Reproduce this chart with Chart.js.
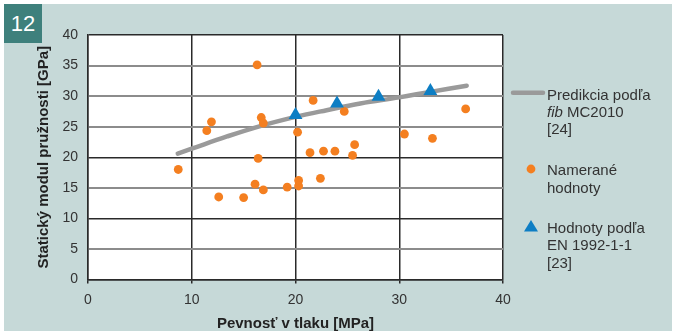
<!DOCTYPE html>
<html>
<head>
<meta charset="utf-8">
<script src="https://cdn.jsdelivr.net/npm/chart.js@4.4.1/dist/chart.umd.min.js"></script>
<style>
  body { margin: 0; background: #fff; width: 676px; height: 335px; position: relative; overflow: hidden; font-family: "Liberation Sans", Arial, sans-serif; }
  #panel { position: absolute; left: 4px; top: 4px; width: 668px; height: 327px; background: #c6d9d8; }
  #badge { position: absolute; left: 4px; top: 4px; width: 38px; height: 39px; background: #3e807c; color: #fff; font-size: 22px; line-height: 39px; text-align: center; }
  #chart { position: absolute; left: 0; top: 0; }
  .leg { position: absolute; left: 547px; font-size: 15px; line-height: 17.3px; color: #333; }
  .sym { position: absolute; }
</style>
</head>
<body>
<div id="panel"></div>
<canvas id="chart" width="676" height="335"></canvas>
<div id="badge">12</div>

<svg class="sym" style="left:508px;top:86px" width="40" height="14"><line x1="5" y1="6.7" x2="35" y2="6.7" stroke="#9a9a9a" stroke-width="4.5" stroke-linecap="round"/></svg>
<div class="leg" style="top:85.7px">Predikcia podľa<br><i>fib</i> MC2010<br>[24]</div>

<svg class="sym" style="left:524px;top:162px" width="14" height="14"><circle cx="7" cy="7" r="4.4" fill="#f47f20"/></svg>
<div class="leg" style="top:161.4px">Namerané<br>hodnoty</div>

<svg class="sym" style="left:523px;top:218px" width="16" height="16"><polygon points="8,2 15,13.5 1,13.5" fill="#0d7ec4"/></svg>
<div class="leg" style="top:219.1px">Hodnoty podľa<br>EN 1992-1-1<br>[23]</div>

<script>
// predikcia podla fib MC2010 (krivka)
const predX = [8.65, 10, 13.4, 16.6, 20, 23, 26.25, 30, 33, 36.5]
const predY = [20.6, 21.4, 23.4, 25.1, 26.6, 27.7, 28.8, 29.8, 30.7, 31.7]

// namerane hodnoty
const measX = [8.7, 11.45, 11.9, 12.6, 15.0, 16.1, 16.3, 16.4, 16.7, 16.9, 16.9, 19.2, 20.2, 20.3, 20.3, 21.4, 21.7, 22.4, 22.7, 23.8, 24.7, 25.5, 25.7, 30.5, 33.2, 36.4]
const measY = [18.0, 24.35, 25.8, 13.5, 13.4, 15.6, 35.1, 19.8, 26.5, 25.6, 14.65, 15.1, 24.1, 16.2, 15.3, 20.75, 29.3, 16.55, 21.0, 21.0, 27.5, 20.3, 22.05, 23.8, 23.1, 27.9]

// hodnoty podla EN 1992-1-1
const enX = [20.0, 24.0, 28.0, 33.0]
const enY = [26.9, 28.8, 29.9, 30.85]

const xTicks = [0, 10, 20, 30, 40]
const yTicks = [0, 5, 10, 15, 20, 25, 30, 35, 40]

function toPoints(xs, ys) {
    return xs.map((x, i) => ({ x: x, y: ys[i] }))
}

const whiteArea = {
    id: 'whiteArea',
    beforeDraw(chart) {
        const a = chart.chartArea
        const c = chart.ctx
        c.save()
        c.fillStyle = '#fff'
        c.fillRect(a.left, a.top, a.right - a.left, a.bottom - a.top)
        c.restore()
    }
}

const darkGrid = '#2a2a2a'
const grayGrid = '#8c8c8c'

// 5, 15, 25, 30, 35 are the lighter gray lines in the original
function isGray(c) {
    return c.tick && (c.tick.value % 10 !== 0 || c.tick.value === 30)
}

new Chart(document.getElementById('chart').getContext('2d'), {
    type: 'scatter',
    data: {
        datasets: [{
            label: 'EN',
            data: toPoints(enX, enY),
            pointStyle: 'triangle',
            pointRadius: 8,
            pointHoverRadius: 8,
            backgroundColor: '#0d7ec4',
            borderWidth: 0,
            order: 0
        }, {
            label: 'Namerane',
            data: toPoints(measX, measY),
            pointStyle: 'circle',
            pointRadius: 4.4,
            pointHoverRadius: 4.4,
            backgroundColor: '#f47f20',
            borderWidth: 0,
            order: 1
        }, {
            label: 'Predikcia',
            data: toPoints(predX, predY),
            showLine: true,
            pointRadius: 0,
            borderColor: '#9a9a9a',
            borderWidth: 4.5,
            borderCapStyle: 'round',
            tension: 0.4,
            order: 2
        }]
    },
    options: {
        responsive: false,
        animation: false,
        layout: { padding: { left: 31, top: 35, right: 173, bottom: 0 } },
        plugins: { legend: { display: false }, tooltip: { enabled: false } },
        scales: {
            x: {
                type: 'linear',
                min: 0, max: 40,
                afterBuildTicks: (s) => { s.ticks = xTicks.map(v => ({ value: v })) },
                afterFit: (s) => { s.height = 55.5 },
                ticks: { color: '#333', font: { family: 'Liberation Sans', size: 14 }, padding: 8 },
                grid: { color: darkGrid, lineWidth: 1.5, tickLength: 4, tickColor: darkGrid },
                border: { color: darkGrid, width: 1.5 },
                title: { display: true, text: 'Pevnosť v tlaku [MPa]', color: '#222', font: { family: 'Liberation Sans', size: 15, weight: 'bold' }, padding: { top: 0, bottom: 2 } }
            },
            y: {
                type: 'linear',
                min: 0, max: 40,
                afterBuildTicks: (s) => { s.ticks = yTicks.map(v => ({ value: v })) },
                afterFit: (s) => { s.width = 57 },
                ticks: { color: '#333', font: { family: 'Liberation Sans', size: 14 }, padding: 10 },
                grid: {
                    drawTicks: false,
                    color: (c) => isGray(c) ? grayGrid : darkGrid,
                    lineWidth: (c) => isGray(c) ? 2 : 1.5
                },
                border: { color: darkGrid, width: 1.5 },
                title: { display: true, text: 'Statický modul pružnosti [GPa]', color: '#222', font: { family: 'Liberation Sans', size: 15, weight: 'bold' }, padding: { top: 4, bottom: 0 } }
            }
        }
    },
    plugins: [whiteArea]
})
</script>
</body>
</html>
